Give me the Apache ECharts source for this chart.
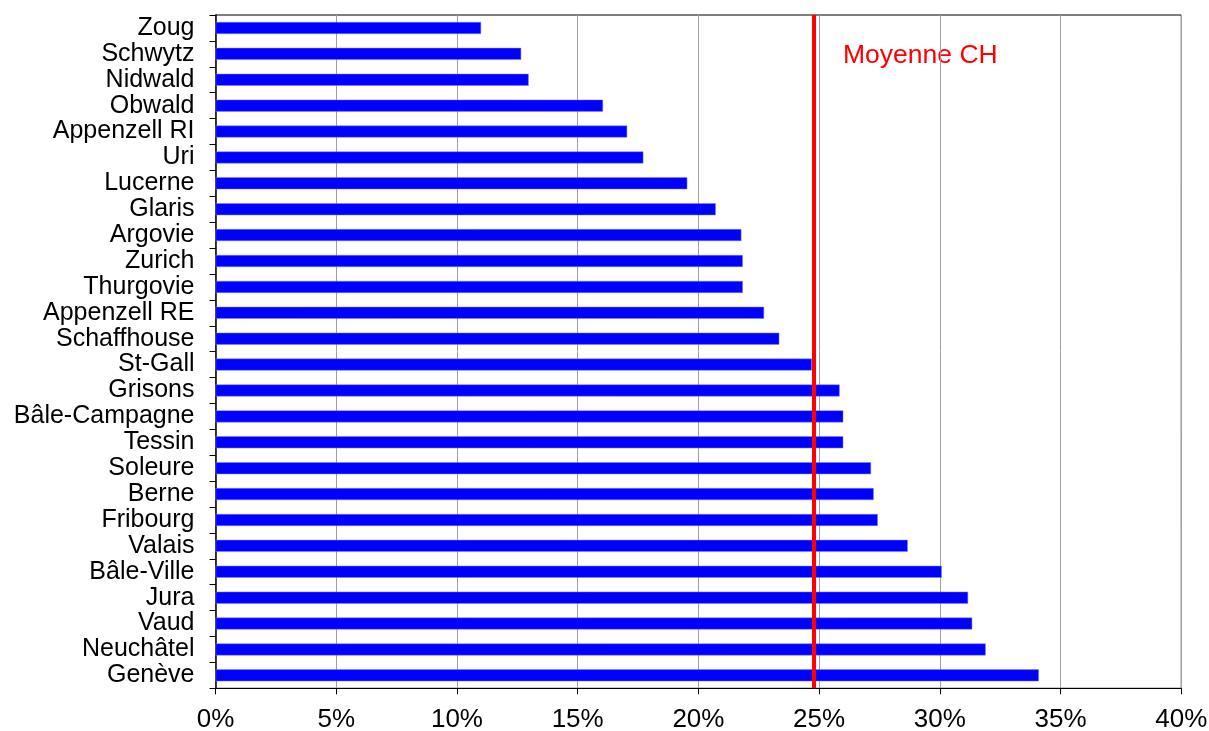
<!DOCTYPE html>
<html>
<head>
<meta charset="utf-8">
<script src="https://cdn.jsdelivr.net/npm/echarts@6/dist/echarts.min.js"></script>
<style>
html,body{margin:0;padding:0;background:#fff;}
#chart{width:1209px;height:731px;}
</style>
</head>
<body>
<div id="chart"></div>
<script>
const cantons = ["Zoug","Schwytz","Nidwald","Obwald","Appenzell RI","Uri","Lucerne","Glaris","Argovie","Zurich","Thurgovie","Appenzell RE","Schaffhouse","St-Gall","Grisons","Bâle-Campagne","Tessin","Soleure","Berne","Fribourg","Valais","Bâle-Ville","Jura","Vaud","Neuchâtel","Genève"];
const values = [11.0,12.66,12.97,16.05,17.05,17.72,19.54,20.72,21.78,21.84,21.84,22.72,23.35,24.7,25.85,26.0,26.0,27.15,27.26,27.43,28.67,30.08,31.17,31.34,31.9,34.1];
const moyenneCH = 24.78;
const moyenneLabel = "Moyenne CH";
const xTicks = [0,5,10,15,20,25,30,35,40];

const FONT = 'Liberation Sans, Arial, sans-serif';
const chart = echarts.init(document.getElementById('chart'));
chart.setOption({
  animation:false,
  backgroundColor:'#ffffff',
  textStyle:{fontFamily:FONT},
  grid:{left:215.5,right:27.7,top:15,bottom:42.7,show:true,borderColor:'#000',borderWidth:1,outerBoundsMode:'none',containLabel:false},
  xAxis:{
    type:'value',min:xTicks[0],max:xTicks[xTicks.length-1],interval:5,
    axisLine:{show:true,lineStyle:{color:'#000',width:1}},
    axisTick:{show:true,length:6,lineStyle:{color:'#000'}},
    axisLabel:{formatter:v=>v+'%',color:'#000',fontSize:26,margin:19,fontFamily:FONT},
    splitLine:{show:true,lineStyle:{color:'#a0a0a0',width:1}}
  },
  yAxis:{
    type:'category',data:cantons,inverse:true,
    axisLine:{show:true,lineStyle:{color:'#000',width:1.5}},
    axisTick:{show:true,length:6,interval:0,lineStyle:{color:'#000'}},
    axisLabel:{interval:0,color:'#000',fontSize:25,margin:21,fontFamily:FONT},
    splitLine:{show:false}
  },
  series:[{
    type:'bar',data:values,barWidth:12,
    itemStyle:{color:'#0000ff',borderColor:'#8080ff',borderWidth:0.5},
    markLine:{
      silent:true,symbol:'none',
      lineStyle:{color:'#ff0000',width:4,type:'solid'},
      label:{show:false},
      data:[{xAxis:moyenneCH}]
    }
  }],
  graphic:[{
    type:'text',left:843,top:42,
    style:{text:moyenneLabel,fill:'#ff0000',fontSize:26.5,fontFamily:FONT}
  }]
});
</script>
</body>
</html>
